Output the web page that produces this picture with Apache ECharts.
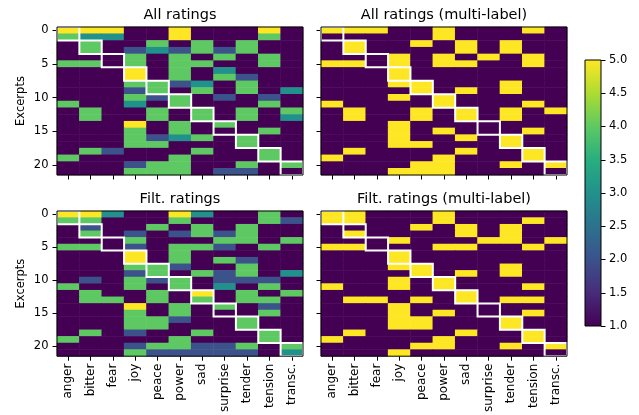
<!DOCTYPE html>
<html><head><meta charset="utf-8">
<script src="https://cdn.jsdelivr.net/npm/echarts@6/dist/echarts.min.js"></script>
<style>html,body{margin:0;padding:0;background:#fff}#c{width:639px;height:415px}</style>
</head><body><div id="c"></div>
<script>
const categories = ['anger','bitter','fear','joy','peace','power','sad','surprise','tender','tension','transc.'];
const excerpts = ['0','1','2','3','4','5','6','7','8','9','10','11','12','13','14','15','16','17','18','19','20','21'];
const panelTitles = ['All ratings','All ratings (multi-label)','Filt. ratings','Filt. ratings (multi-label)'];
const colorbarTicks = [1.0,1.5,2.0,2.5,3.0,3.5,4.0,4.5,5.0];

const allRatings = [
  [5,5,5,1,1,5,1,1,1,5,1],
  [4,3,3,1,1,5,1,1,1,4,1],
  [1,4,1,1,4,1,4,1,4,1,1],
  [1,4,1,2,3,2,4,2,4,1,1],
  [1,1,1,4,1,4,1,4,1,4,1],
  [4,4,1,4,1,4,4,1,1,4,1],
  [1,1,1,5,1,4,1,3,1,1,1],
  [1,1,1,5,1,4,1,4,2,1,1],
  [1,1,1,4,4,2,3,1,4,1,1],
  [1,1,1,2,4,1,4,1,4,1,3],
  [1,1,1,4,2,4,1,2,1,2,1],
  [4,1,1,3,1,4,1,1,1,4,1],
  [1,4,1,1,4,1,4,1,4,1,4],
  [1,4,1,1,4,1,4,1,4,1,3],
  [1,1,1,5,1,4,1,4,1,1,1],
  [1,1,1,4,1,4,1,1,1,4,1],
  [1,1,1,4,2,3,4,1,4,1,1],
  [1,1,1,4,4,1,1,1,4,1,1],
  [1,4,2,1,1,1,4,1,1,4,1],
  [4,1,1,1,1,4,1,1,1,4,1],
  [1,1,1,2,4,4,1,1,4,1,4],
  [1,1,1,4,4,4,1,2,2,1,1]
];
const allMulti = [
  [5,5,5,1,1,5,1,1,1,5,1],
  [1,1,1,1,1,5,1,1,1,1,1],
  [1,5,1,1,5,1,5,1,5,1,1],
  [1,5,1,1,1,1,5,1,5,1,1],
  [1,1,1,5,1,5,1,5,1,5,1],
  [5,5,1,5,1,5,5,1,1,5,1],
  [1,1,1,5,1,1,1,1,1,1,1],
  [1,1,1,5,1,1,1,1,1,1,1],
  [1,1,1,5,5,1,1,1,5,1,1],
  [1,1,1,1,5,1,5,1,5,1,1],
  [1,1,1,5,1,5,1,1,1,1,1],
  [5,1,1,1,1,5,1,1,1,5,1],
  [1,5,1,1,5,1,5,1,5,1,5],
  [1,5,1,1,5,1,5,1,5,1,1],
  [1,1,1,5,1,1,1,1,1,1,1],
  [1,1,1,5,1,5,1,1,1,5,1],
  [1,1,1,5,1,1,5,1,5,1,1],
  [1,1,1,5,5,1,1,1,5,1,1],
  [1,5,1,1,1,1,5,1,1,5,1],
  [5,1,1,1,1,5,1,1,1,5,1],
  [1,1,1,1,5,5,1,1,5,1,5],
  [1,1,1,5,5,5,1,1,1,1,1]
];
const filtRatings = [
  [5,5,3,1,1,5,3,1,1,4,1],
  [4,4,1,1,1,4,1,1,1,4,2],
  [1,2,1,1,4,1,4,1,4,1,1],
  [1,4,1,2,1,2,4,2,4,1,1],
  [1,1,1,4,1,1,1,4,4,1,4],
  [4,4,1,2,1,4,4,2,1,4,1],
  [1,1,1,5,1,4,1,1,1,1,1],
  [1,1,1,5,1,4,1,4,2,1,1],
  [1,1,1,4,4,2,1,1,4,1,1],
  [1,1,1,2,4,1,4,2,4,1,3],
  [1,2,1,4,2,4,1,2,2,2,1],
  [4,1,1,4,1,4,1,3,1,4,1],
  [1,4,1,1,4,1,5,1,4,1,4],
  [1,4,4,1,4,1,4,1,4,4,1],
  [1,1,1,5,1,4,1,4,1,2,1],
  [1,1,1,4,1,4,1,1,1,4,1],
  [1,1,1,4,4,2,1,1,4,1,1],
  [1,1,1,4,4,1,1,1,4,1,1],
  [1,4,1,2,1,1,4,1,1,4,1],
  [4,1,1,1,1,4,1,1,1,4,1],
  [1,1,1,2,4,4,2,2,4,1,4],
  [1,1,1,4,2,2,2,2,2,1,3]
];
const filtMulti = [
  [5,5,1,1,1,5,1,1,1,1,1],
  [5,5,1,1,1,5,1,1,1,5,1],
  [1,1,1,1,5,1,5,1,5,1,1],
  [1,5,1,1,1,1,5,1,5,1,1],
  [1,1,1,5,1,1,1,5,5,1,5],
  [5,5,1,1,1,5,5,1,1,5,1],
  [1,1,1,5,1,1,1,1,1,1,1],
  [1,1,1,5,1,1,1,1,1,1,1],
  [1,1,1,5,5,1,1,1,5,1,1],
  [1,1,1,1,5,1,5,1,5,1,1],
  [1,1,1,5,1,5,1,1,1,1,1],
  [5,1,1,5,1,5,1,1,1,5,1],
  [1,1,1,1,1,1,5,1,1,1,1],
  [1,5,5,1,5,1,5,1,5,5,1],
  [1,1,1,5,1,1,1,1,1,1,1],
  [1,1,1,5,1,5,1,1,1,5,1],
  [1,1,1,5,5,1,1,1,5,1,1],
  [1,1,1,5,5,1,1,1,5,1,1],
  [1,5,1,1,1,1,5,1,1,5,1],
  [5,1,1,1,1,5,1,1,1,5,1],
  [1,1,1,1,5,5,1,1,5,1,5],
  [1,1,1,5,1,1,1,1,1,1,1]
];

const matrices = [allRatings, allMulti, filtRatings, filtMulti];
const viridis = ['#440154','#472c7a','#3b528b','#2c728e','#21918c','#28ae80','#5ec962','#addc30','#fde725'];
const FONT = 'DejaVu Sans';

const gridPos = [
  {left:57, top:27}, {left:321, top:27}, {left:57, top:211}, {left:321, top:211}
];
const grids = gridPos.map(p => ({left:p.left, top:p.top, width:246, height:148, show:true,
  borderColor:'#000', borderWidth:1, backgroundColor:'transparent', z:10, containLabel:false}));
grids.push({left:585, top:60, width:16, height:266, show:true, borderColor:'#000', borderWidth:1,
  backgroundColor:'transparent', z:10});

const xAxes = [], yAxes = [], series = [];
for (let g = 0; g < 4; g++) {
  const bottom = g >= 2, left = g % 2 === 0;
  xAxes.push({type:'category', gridIndex:g, data:categories, position:'bottom',
    axisLine:{show:false}, splitLine:{show:false},
    axisTick:{show:true, alignWithLabel:true, interval:0, length:4.5, lineStyle:{color:'#000', width:1}},
    axisLabel:{show:bottom, interval:0, rotate:90, margin:7.5, color:'#000', fontSize:12, fontFamily:FONT}});
  yAxes.push({type:'category', gridIndex:g, data:excerpts, inverse:true,
    axisLine:{show:false}, splitLine:{show:false},
    axisTick:{show:true, alignWithLabel:true, interval:4, length:4.5, lineStyle:{color:'#000', width:1}},
    axisLabel:{show:left, interval:4, margin:8.5, color:'#000', fontSize:11.5, fontFamily:FONT},
    name: left ? 'Excerpts' : '', nameLocation:'middle', nameGap:30, nameRotate:90,
    nameTextStyle:{color:'#000', fontSize:11.5, fontFamily:FONT}});
  const data = [];
  matrices[g].forEach((row, r) => row.forEach((v, c) => data.push([c, r, v])));
  series.push({type:'heatmap', xAxisIndex:g, yAxisIndex:g, data:data, z:2,
    itemStyle:{borderWidth:0}, emphasis:{disabled:true}, progressive:0});
}
// white outline boxes: category k owns excerpts 2k, 2k+1
const boxData = categories.map((c, k) => [k, 2 * k]);
for (let g = 0; g < 4; g++) {
  series.push({type:'custom', xAxisIndex:g, yAxisIndex:g, data:boxData, z:5, silent:true,
    encode:{x:0, y:1},
    renderItem:(params, api) => {
      const p = api.coord([api.value(0), api.value(1)]);
      const s = api.size([1, 1]);
      const w = Math.abs(s[0]), h = Math.abs(s[1]);
      return {type:'rect', shape:{x:p[0]-w/2, y:p[1]-h/2, width:w, height:2*h},
        style:{fill:null, stroke:'#fff', lineWidth:2}};
    }});
}
// colorbar
xAxes.push({type:'category', gridIndex:4, data:['cb'], show:false, boundaryGap:false});
yAxes.push({type:'value', gridIndex:4, min:1, max:5, interval:0.5, position:'right',
  axisLine:{show:false}, splitLine:{show:false},
  axisTick:{show:true, length:4.5, lineStyle:{color:'#000'}},
  axisLabel:{margin:8, color:'#000', fontSize:11.5, fontFamily:FONT, formatter:v => v.toFixed(1)}});
series.push({type:'custom', xAxisIndex:4, yAxisIndex:4, data:[[0, colorbarTicks[0], colorbarTicks[colorbarTicks.length-1]]], z:2, silent:true,
  renderItem:(params, api) => {
    const lo = api.coord([0, api.value(1)]);
    const hi = api.coord([0, api.value(2)]);
    const rect = params.coordSys;
    return {type:'rect', shape:{x:rect.x, y:hi[1], width:rect.width, height:lo[1]-hi[1]},
      style:{fill:{type:'linear', x:0, y:1, x2:0, y2:0,
        colorStops: viridis.map((c, i) => ({offset:i/(viridis.length-1), color:c}))}}};
  }});

const titleCenters = [[180,15.5],[444,15.5],[180,199],[444,199]];
const graphics = panelTitles.map((t, i) => ({type:'text', x:titleCenters[i][0], y:titleCenters[i][1], z:20,
  style:{text:t, fill:'#000', font:'14.5px "DejaVu Sans"', textAlign:'center', textVerticalAlign:'middle'}}));

const chart = echarts.init(document.getElementById('c'), null, {renderer:'canvas'});
chart.setOption({
  animation:false,
  backgroundColor:'#fff',
  grid:grids, xAxis:xAxes, yAxis:yAxes,
  visualMap:{type:'continuous', show:false, min:1, max:5, seriesIndex:[0,1,2,3], dimension:2,
    inRange:{color:viridis}},
  graphic:graphics,
  series:series
});
</script></body></html>
